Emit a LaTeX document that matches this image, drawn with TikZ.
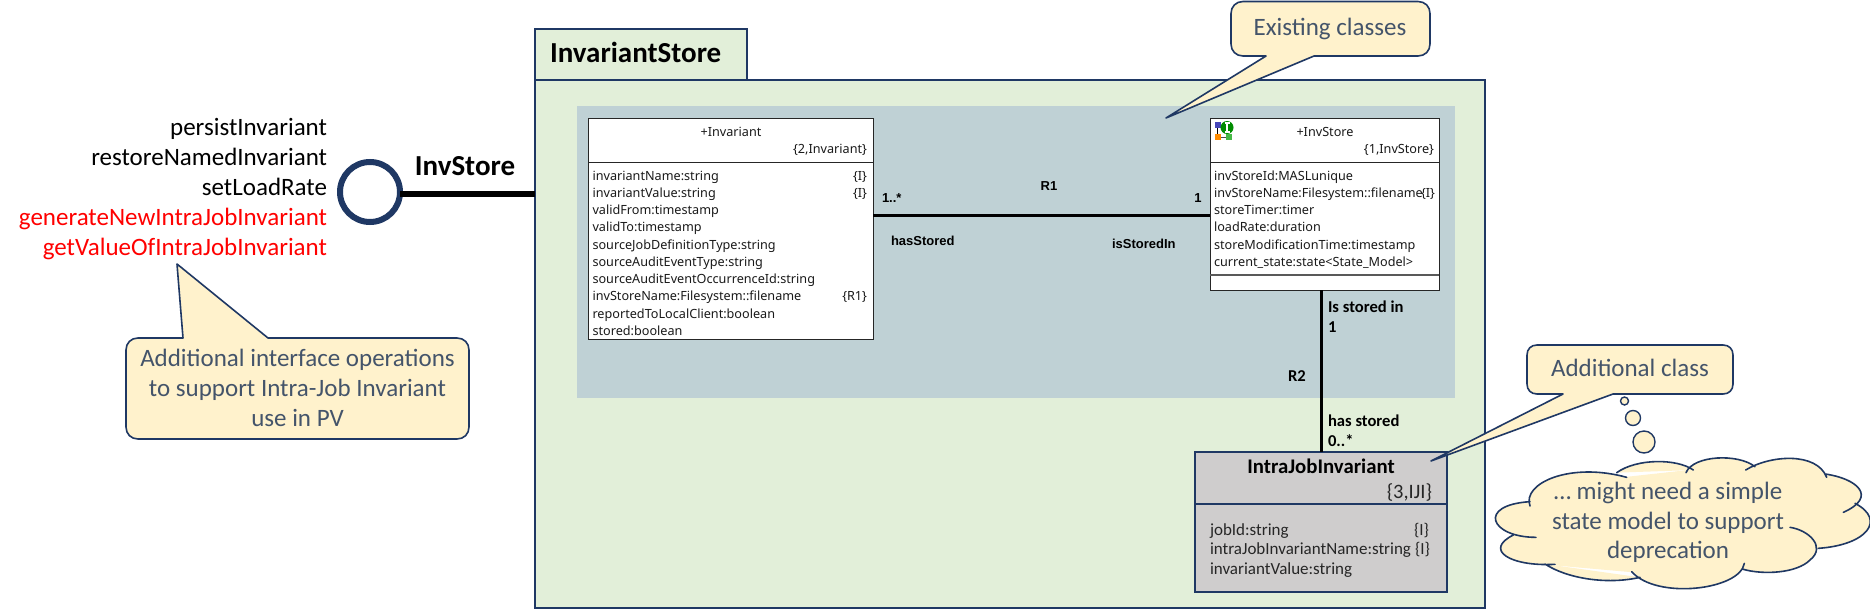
\documentclass[tikz,border=0pt]{standalone}
\usepackage{fontspec}
\setmainfont{Carlito}
\newfontfamily\umlfont{Noto Sans}
\newfontfamily\umlbold{Liberation Sans}
\definecolor{navy}{HTML}{1F3864}
\definecolor{pkggreen}{HTML}{E2EFD9}
\definecolor{regionblue}{HTML}{BFD1D5}
\definecolor{noteyellow}{HTML}{FFF2CC}
\definecolor{notetext}{HTML}{44546A}
\definecolor{ijigray}{HTML}{CFCDCD}
\definecolor{umltext}{HTML}{1A1A1A}
\newcommand{\fsz}[1]{\fontsize{#1}{#1}\selectfont}
\newcommand{\cloudlobes}{
  (150,168) .. controls (125,100) and (270,35) .. (440,82)
  (410,68) .. controls (470,25) and (590,25) .. (640,60)
  (618,68) .. controls (640,15) and (775,10) .. (825,50)
  (797,60) .. controls (870,15) and (1010,5) .. (1040,82)
  (1035,72) .. controls (1130,85) and (1195,140) .. (1090,187)
  (1125,160) .. controls (1220,210) and (1160,285) .. (1015,295)
  (930,232) .. controls (985,240) and (1040,290) .. (990,330) .. controls (950,370) and (850,375) .. (790,358)
  (793,340) .. controls (780,420) and (530,450) .. (455,365)
  (480,382) .. controls (380,405) and (260,385) .. (195,342)
  (225,343) .. controls (90,350) and (10,300) .. (100,255)
  (168,262) .. controls (30,262) and (-10,165) .. (150,155)
}
\tikzset{
  base text/.style={inner sep=0pt, outer sep=0pt},
  iface op/.style={base text, anchor=base east, font=\fsz{25}},
  note text/.style={base text, anchor=base, font=\fsz{25}, text=notetext},
  note shape/.style={draw=navy, fill=noteyellow, line width=1.6pt, line join=round},
  bold label/.style={base text, font=\bfseries\fsz{16.6}},
  uml label/.style={base text, font=\umlbold\bfseries\fsz{13}},
  attr/.style={base text, anchor=base west, font=\umlfont\fsz{12.65}, text=umltext},
  attr tag/.style={base text, anchor=base east, font=\umlfont\fsz{12.65}, text=umltext},
  iji text/.style={base text, font=\fsz{17}, text=black!85},
  class box/.style={draw=black!85, fill=white, line width=1pt, inner sep=0pt, outer sep=0pt},
  assoc/.style={draw=black, line width=3pt},
  thought/.style={draw=navy, fill=noteyellow, line width=1.4pt, circle, inner sep=0pt, outer sep=0pt},
}
\begin{document}
\begin{tikzpicture}[x=1pt,y=-1pt]
\useasboundingbox (0,0) rectangle (1870,610);
\fill[white] (0,0) rectangle (1870,610);

% package
\node[draw=navy, fill=pkggreen, line width=2.4pt, minimum width=212pt, minimum height=51pt, inner sep=0pt, outer sep=0pt] (pkgtab) at (641,54.5) {};
\node[draw=navy, fill=pkggreen, line width=2.4pt, minimum width=950pt, minimum height=528pt, inner sep=0pt, outer sep=0pt] (pkg) at (1010,344) {};
\node[base text, anchor=base west, font=\bfseries\fsz{29}] (pkgname) at (550,63) {InvariantStore};
\node[fill=regionblue, minimum width=878pt, minimum height=292pt, inner sep=0pt, outer sep=0pt] (region) at (1016,252) {};

% helper levels
\coordinate (lvlIface) at (0,194);
\coordinate (lvlRone) at (0,215);
\coordinate (xRtwo) at (1321,0);
\coordinate (lvlInvDiv) at (0,162);
\coordinate (lvlStoreDiv) at (0,275);
\coordinate (lvlIjiDiv) at (0,504);

% Invariant class
\node[class box, minimum width=285pt, minimum height=221pt] (invbox) at (730.5,228.5) {};
\draw[draw=black!85, line width=1pt] (invbox.west |- lvlInvDiv) -- (invbox.east |- lvlInvDiv);
\node[base text, anchor=base, font=\umlfont\fsz{12.65}, text=umltext] (invtitle) at (731,136) {+Invariant};
\node[attr tag] (invkey) at (867,153) {\{2,Invariant\}};
\foreach \t [count=\i from 0] in {invariantName:string,invariantValue:string,validFrom:timestamp,validTo:timestamp,sourceJobDefinitionType:string,sourceAuditEventType:string,sourceAuditEventOccurrenceId:string,invStoreName:Filesystem::filename,reportedToLocalClient:boolean,stored:boolean}
  \node[attr] (invattr\i) at (592.5,180+17.25*\i) {\t};
\node[attr tag] (invtagA) at (867,180) {\{I\}};
\node[attr tag] (invtagB) at (867,197.25) {\{I\}};
\node[attr tag] (invtagC) at (867,300.75) {\{R1\}};

% InvStore class
\node[class box, minimum width=229pt, minimum height=172pt] (storebox) at (1324.5,204) {};
\draw[draw=black!85, line width=1pt] (storebox.west |- lvlInvDiv) -- (storebox.east |- lvlInvDiv);
\draw[draw=black!65, line width=1.6pt] (storebox.west |- lvlStoreDiv) -- (storebox.east |- lvlStoreDiv);
\node[base text, anchor=base, font=\umlfont\fsz{12.65}, text=umltext] (storetitle) at (1325,136) {+InvStore};
\node[attr tag] (storekey) at (1434,153) {\{1,InvStore\}};
\foreach \t [count=\i from 0] in {invStoreId:MASLunique,invStoreName:Filesystem::filename,storeTimer:timer,loadRate:duration,storeModificationTime:timestamp,current\_state:state<State\_Model>}
  \node[attr] (storeattr\i) at (1214,180+17.25*\i) {\t};
\node[attr tag] (storetag) at (1435,197.25) {\{I\}};
% class icon
\fill[blue!45!gray] (1214.5,122) rectangle (1220.5,128);
\fill[orange!90!yellow] (1215,134) rectangle (1221,140);
\fill[green!45!gray] (1226,134) rectangle (1232,140);
\draw[black, line width=0.8pt] (1217.5,128) -- (1217.5,134);
\draw[black!70, line width=0.8pt] (1221,137) -- (1226,137);
\fill[green!55!black] (1227,127.5) circle (6.5pt);
\draw[white, line width=1.4pt] (1227,123) -- (1227,132) (1224.5,123) -- (1229.5,123) (1224.5,132) -- (1229.5,132);

% IntraJobInvariant class
\node[draw=navy, fill=ijigray, line width=2pt, minimum width=252pt, minimum height=140pt, inner sep=0pt, outer sep=0pt] (iji) at (1321,522) {};
\draw[draw=navy, line width=2pt] (iji.west |- lvlIjiDiv) -- (iji.east |- lvlIjiDiv);
\node[base text, anchor=base, font=\bfseries\fsz{20.8}] (ijititle) at (1321,473) {IntraJobInvariant};
\node[iji text, anchor=base east, font=\fsz{20.5}] (ijikey) at (1432,498) {\{3,IJI\}};
\node[iji text, anchor=base west] (ijiattrA) at (1210,535) {jobId:string};
\node[iji text, anchor=base west] (ijiattrB) at (1210,554.5) {intraJobInvariantName:string};
\node[iji text, anchor=base west] (ijiattrC) at (1210,574) {invariantValue:string};
\node[iji text, anchor=base east] (ijitagA) at (1429,535) {\{I\}};
\node[iji text, anchor=base east] (ijitagB) at (1430,554.5) {\{I\}};

% associations
\draw[assoc] (invbox.east |- lvlRone) -- (storebox.west |- lvlRone);
\draw[assoc] (storebox.south -| xRtwo) -- (iji.north -| xRtwo);
\node[uml label, anchor=base west] (ronea) at (882,202) {1..*};
\node[uml label, anchor=base] (rone) at (1049,190) {R1};
\node[uml label, anchor=base] (roneb) at (1198,202) {1};
\node[uml label, anchor=base west] (hasstored) at (891,245) {hasStored};
\node[uml label, anchor=base west] (isstored) at (1112,248) {isStoredIn};
\node[bold label, anchor=base west] (rtwoa) at (1328,312) {Is stored in};
\node[bold label, anchor=base west] (rtwob) at (1328,332) {1};
\node[bold label, anchor=base] (rtwo) at (1297,381) {R2};
\node[bold label, anchor=base west] (rtwoc) at (1328,426) {has stored};
\node[bold label, anchor=base west] (rtwod) at (1328,446) {0..*};

% interface
\node[draw=navy, fill=white, line width=6pt, circle, minimum size=60pt, inner sep=0pt, outer sep=0pt] (iface) at (370,192) {};
\draw[draw=black, line width=6pt] (iface.east |- lvlIface) -- (pkg.west |- lvlIface);
\node[base text, anchor=base, font=\bfseries\fsz{29}] (ifacename) at (465,175) {InvStore};
\node[iface op] (opA) at (327,135) {persistInvariant};
\node[iface op] (opB) at (327,165) {restoreNamedInvariant};
\node[iface op] (opC) at (327,195) {setLoadRate};
\node[iface op, text=red] (opD) at (327,225) {generateNewIntraJobInvariant};
\node[iface op, text=red] (opE) at (327,255) {getValueOfIntraJobInvariant};

% callouts
\draw[note shape] (183,338) -- (177,264) -- (268,338) -- (457,338)
  .. controls (464,338) and (469,343) .. (469,350) -- (469,427)
  .. controls (469,434) and (464,439) .. (457,439) -- (138,439)
  .. controls (131,439) and (126,434) .. (126,427) -- (126,350)
  .. controls (126,343) and (131,338) .. (138,338) -- cycle;
\node[note text] (noteAa) at (297.5,366) {Additional interface operations};
\node[note text] (noteAb) at (297.5,396) {to support Intra-Job Invariant};
\node[note text] (noteAc) at (297.5,426) {use in PV};

\draw[note shape] (1314,56) -- (1166,118) -- (1266,56) -- (1243,56)
  .. controls (1236,56) and (1231,51) .. (1231,44) -- (1231,13.5)
  .. controls (1231,6.5) and (1236,1.5) .. (1243,1.5) -- (1418,1.5)
  .. controls (1425,1.5) and (1430,6.5) .. (1430,13.5) -- (1430,44)
  .. controls (1430,51) and (1425,56) .. (1418,56) -- cycle;
\node[note text] (noteB) at (1330,36) {Existing classes};

\draw[note shape] (1613,394) -- (1431,461) -- (1563,394) -- (1537,394)
  .. controls (1531,394) and (1527,390) .. (1527,384) -- (1527,355)
  .. controls (1527,349) and (1531,345) .. (1537,345) -- (1723,345)
  .. controls (1729,345) and (1733,349) .. (1733,355) -- (1733,384)
  .. controls (1733,390) and (1729,394) .. (1723,394) -- cycle;
\node[note text] (noteC) at (1630,376) {Additional class};

% thought bubble
\node[thought, minimum size=8pt] (bubA) at (1624.5,401) {};
\node[thought, minimum size=15pt] (bubB) at (1633,418) {};
\node[thought, minimum size=22pt] (bubC) at (1644,442) {};
\begin{scope}[shift={(1480,450)}, x=0.33333pt, y=-0.33333pt]
  \path[fill=noteyellow, draw=noteyellow, line width=1pt] \cloudlobes
    (150,168) -- (440,82) -- (640,60) -- (825,50) -- (1040,82) -- (1125,170) -- (1015,295) -- (790,358) -- (455,365) -- (195,342) -- (100,255) -- cycle;
  \draw[draw=navy, line width=1.6pt, line cap=round] \cloudlobes;
\end{scope}
\node[note text] (cloudA) at (1668,499) {… might need a simple};
\node[note text] (cloudB) at (1668,529) {state model to support};
\node[note text] (cloudC) at (1668,558) {deprecation};
\end{tikzpicture}
\end{document}
